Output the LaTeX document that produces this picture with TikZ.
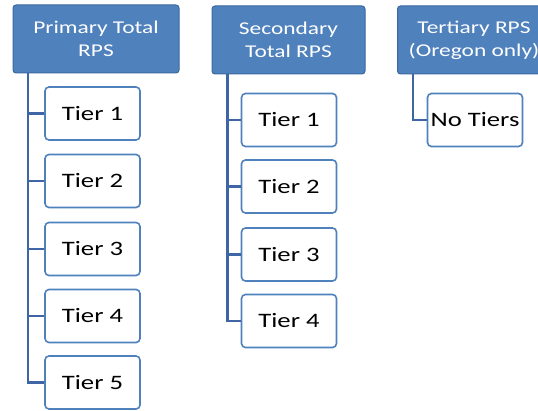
\documentclass[tikz,border=0pt]{standalone}
\usepackage{fontspec}
\setmainfont[FakeStretch=1.3]{Carlito}
\definecolor{hdrfill}{RGB}{79,129,189}
\definecolor{hdrline}{RGB}{60,104,160}
\definecolor{tierline}{RGB}{79,129,189}
\definecolor{linkcol}{RGB}{62,102,164}
\tikzset{
  header/.style={draw=hdrline, line width=1pt, fill=hdrfill, rounded corners=3pt,
    minimum width=153pt, minimum height=68pt, text=white, align=center,
    font=\fontsize{18}{23}\selectfont, inner sep=0pt},
  tierbox/.style={draw=tierline, line width=1.6pt, fill=white, rounded corners=4pt,
    minimum width=95pt, minimum height=53pt, align=center,
    font=\fontsize{20.5}{24}\selectfont, inner sep=0pt},
  link/.style={draw=linkcol, line width=2.4pt}
}
\begin{document}
\begin{tikzpicture}[x=1pt, y=-1pt]
  \useasboundingbox (0,0) rectangle (538,411);
  \clip (0,0) rectangle (538,411);
  \fill[white] (0,0) rectangle (538,411);

  % column headers
  \node[header, minimum width=166pt] (prim) at (96,39) {Primary Total\\RPS};
  \node[header] (sec) at (288.5,40) {Secondary\\Total RPS};
  \node[header] (ter) at (474,40) {Tertiary RPS\\(Oregon only)};

  % primary tiers
  \node[tierbox] (p1) at (92.5,113.5) {Tier 1};
  \node[tierbox] (p2) at (92.5,181) {Tier 2};
  \node[tierbox] (p3) at (92.5,249) {Tier 3};
  \node[tierbox] (p4) at (92.5,316) {Tier 4};
  \node[tierbox] (p5) at (92.5,382.5) {Tier 5};

  % secondary tiers
  \node[tierbox] (s1) at (289,120) {Tier 1};
  \node[tierbox] (s2) at (289,186.5) {Tier 2};
  \node[tierbox] (s3) at (289,254.5) {Tier 3};
  \node[tierbox] (s4) at (289,321) {Tier 4};

  % tertiary
  \node[tierbox] (t1) at (475,120) {No Tiers};

  % connectors: trunk down from each header, a branch to each child
  \coordinate (ptop) at ([xshift=-68pt]prim.south);
  \coordinate (stop) at ([xshift=-61pt]sec.south);
  \coordinate (ttop) at ([xshift=-61pt]ter.south);

  \foreach \c in {p1,p2,p3,p4,p5}
    \draw[link] (ptop) |- (\c.west);
  \foreach \c in {s1,s2,s3,s4}
    \draw[link] (stop) |- (\c.west);
  \draw[link] (ttop) |- (t1.west);
\end{tikzpicture}
\end{document}
